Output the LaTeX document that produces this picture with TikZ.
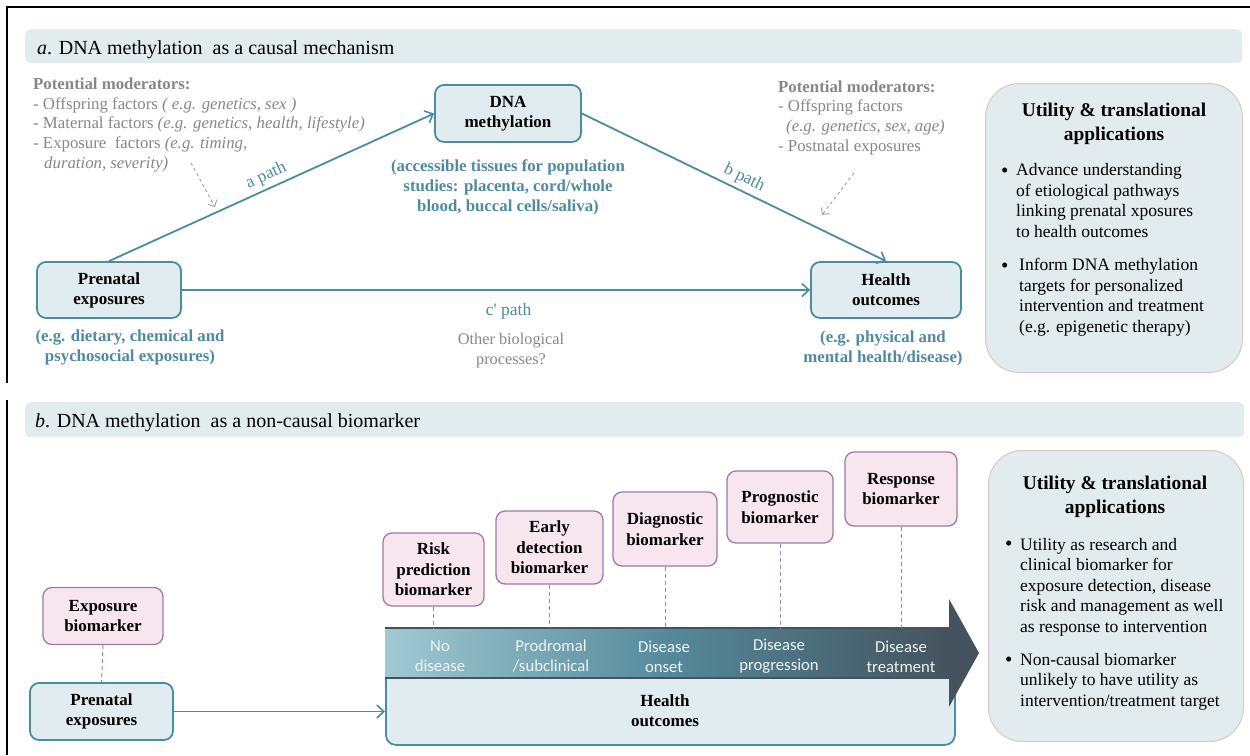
\documentclass[tikz,border=0pt]{standalone}
\usepackage{fontspec}
\setmainfont{Liberation Serif}
\newfontfamily\carlito{Carlito}
\usetikzlibrary{arrows.meta,calc}
\definecolor{teal}{HTML}{4A8CA1}
\definecolor{boxfill}{HTML}{E1ECF0}
\definecolor{bannerfill}{HTML}{E2ECEF}
\definecolor{tealtext}{HTML}{4E8AA0}
\definecolor{graytext}{HTML}{878787}
\definecolor{pinkfill}{HTML}{F7E6EE}
\definecolor{purpleb}{HTML}{9C7BA8}
\definecolor{dashpurple}{HTML}{A283B4}
\definecolor{utilborder}{HTML}{D6C8C8}
\definecolor{banddark}{HTML}{44535D}
\definecolor{bandmid}{HTML}{55899A}
\definecolor{bandlight}{HTML}{A0C9D3}
\definecolor{bandtext}{HTML}{EEF4F5}
\tikzset{
  banner/.style={fill=bannerfill, draw=none, rounded corners=6pt, anchor=north west, inner sep=0pt},
  tealbox/.style={draw=teal, line width=1.8pt, fill=boxfill, rounded corners=9pt, inner sep=0pt, align=center,
     font=\fontsize{17}{20}\selectfont\bfseries},
  pinkbox/.style={draw=purpleb, line width=1.3pt, fill=pinkfill, rounded corners=9pt, inner sep=0pt, align=center,
     font=\fontsize{17}{20.5}\selectfont\bfseries},
  utilbox/.style={draw=utilborder, line width=1pt, fill=bannerfill, rounded corners=34pt, inner sep=0pt, anchor=north west},
  arr/.style={draw=teal, line width=1.8pt, -{Straight Barb[length=7pt,width=13pt,line width=1.6pt]}},
  grayarr/.style={draw=graytext!80, line width=0.9pt, dash pattern=on 3pt off 3pt, -{Straight Barb[length=5pt,width=10pt,line width=0.9pt]}},
  pdash/.style={draw=dashpurple, line width=1pt, dash pattern=on 4pt off 3pt},
  tealnote/.style={text=tealtext, font=\fontsize{16.8}{20}\selectfont\bfseries, align=center, inner sep=0pt},
  graynote/.style={text=graytext, font=\fontsize{16.8}{19.6}\selectfont, align=left, inner sep=0pt, anchor=base west},
  pathlbl/.style={text=teal, font=\fontsize{17.5}{20}\selectfont, inner sep=0pt},
  bodytxt/.style={font=\fontsize{17.5}{20.5}\selectfont, align=left, inner sep=0pt, anchor=base west},
  bullet/.style={font=\fontsize{21}{20}\selectfont, inner sep=0pt, anchor=base west},
  utitle/.style={font=\fontsize{19.4}{24}\selectfont\bfseries, align=center, inner sep=0pt},
  stage/.style={text=bandtext, font=\carlito\fontsize{16.7}{20}\selectfont, align=center, inner sep=0pt},
  ttl/.style={font=\fontsize{20}{22}\selectfont, inner sep=0pt, anchor=base west},
}
\begin{document}
\begin{tikzpicture}[x=1pt,y=-1pt]
\useasboundingbox (0,0) rectangle (1250,755);
\fill[white] (0,0) rectangle (1250,755);
% frame
\draw[black, line width=1.3pt] (7,383) -- (7,7) -- (1250,7);
\draw[black, line width=1.3pt] (7,400) -- (7,755);

% ===== part a =====
\node[banner, minimum width=1217pt, minimum height=34pt] (bana) at (25,29) {};
\node[ttl] (tta) at (37,54) {\textit{a}. DNA methylation\ \ as a causal mechanism};

\node[tealbox, minimum width=146pt, minimum height=57pt] (dna) at (508,113.5) {DNA\\methylation};
\node[tealbox, minimum width=144pt, minimum height=56pt] (pe) at (109,290) {Prenatal\\exposures};
\node[tealbox, minimum width=150pt, minimum height=56pt] (ho) at (886,290) {Health\\outcomes};

\node[tealnote] (dnanote) at (508,187) {(accessible tissues for population\\studies: placenta, cord/whole\\blood, buccal cells/saliva)};
\node[tealnote] (penote) at (130,347) {(e.g. dietary, chemical and\\psychosocial exposures)};
\node[tealnote] (honote) at (883,348) {(e.g. physical and\\mental health/disease)};

\draw[arr] (pe.north) -- node[pathlbl, sloped, above=4pt, pos=0.5] {a path} (dna.west);
\draw[arr] (dna.east) -- node[pathlbl, sloped, above=4pt, pos=0.515] {b path} (ho.north);
\draw[arr] (pe.east) -- node[pathlbl, below=12pt, pos=0.52] {c\textquotesingle\ path} (ho.west);
\node[text=graytext, font=\fontsize{16.3}{20}\selectfont, align=center, inner sep=0pt] (obp) at (511,351) {Other biological\\processes?};

\node[graynote] (modl) at (33,168) {\textbf{Potential moderators:}\\
- Offspring factors \textit{( e.g. genetics, sex )}\\
- Maternal factors \textit{(e.g. genetics, health, lifestyle)}\\
- Exposure\ \ factors \textit{(e.g. timing,}\\
\hspace*{11pt}\textit{duration, severity)}};
\node[graynote] (modr) at (778,151) {\textbf{Potential moderators:}\\
- Offspring factors\\
\hspace*{8pt}\textit{(e.g. genetics, sex, age)}\\
- Postnatal exposures};
\coordinate (gl1) at (191,163);
\coordinate (gl2) at (215,207);
\draw[grayarr] (gl1) -- (gl2);
\coordinate (gr1) at (854,173);
\coordinate (gr2) at (822,215);
\draw[grayarr] (gr1) -- (gr2);

\node[utilbox, minimum width=257pt, minimum height=289pt] (ua) at (985,83) {};
\node[utitle] (uat) at (1114,124) {Utility \& translational\\applications};
\node[bullet] (ba1) at (1001,177) {\textbullet};
\node[bodytxt] (ta1) at (1016,237) {Advance understanding\\of etiological pathways\\linking prenatal xposures\\to health outcomes};
\node[bullet] (ba2) at (1001,272) {\textbullet};
\node[bodytxt] (ta2) at (1019,332) {Inform DNA methylation\\targets for personalized\\intervention and treatment\\(e.g. epigenetic therapy)};

% ===== part b =====
\node[banner, minimum width=1219pt, minimum height=35pt] (banb) at (25,402) {};
\node[ttl] (ttb) at (35,427) {\textit{b}. DNA methylation\ \ as a non-causal biomarker};

\node[draw=teal, line width=1.8pt, fill=boxfill, rounded corners=10pt, inner sep=0pt, anchor=north west,
      minimum width=569pt, minimum height=117pt] (hob) at (385,627) {};
\node[font=\fontsize{17}{20}\selectfont\bfseries, align=center, inner sep=0pt] (hobt) at (665,711) {Health\\outcomes};

% band arrow
\shade[left color=bandlight, right color=banddark, middle color=bandmid] (385,628) rectangle (951,678);
\draw[banddark, line width=2pt] (385,628) -- (951,628);
\draw[banddark, line width=1.5pt] (385,678) -- (951,678);
\fill[banddark] (949,599) -- (979,653) -- (949,707) -- cycle;
\coordinate (bandtop) at (400,628);

\node[stage] (s1) at (440,656.5) {No\\disease};
\node[stage] (s2) at (551,656.5) {Prodromal\\/subclinical};
\node[stage] (s3) at (664,656.5) {Disease\\onset};
\node[stage] (s4) at (779,656.5) {Disease\\progression};
\node[stage] (s5) at (901,656.5) {Disease\\treatment};

\node[pinkbox, minimum width=120pt, minimum height=57pt] (exb) at (103,616) {Exposure\\biomarker};
\node[tealbox, minimum width=143pt, minimum height=57pt] (pb) at (101.5,711.5) {Prenatal\\exposures};
\draw[pdash] (exb.south) -- (pb.north);
\draw[arr] (pb.east) -- (pb.east -| hob.west);

\node[pinkbox, minimum width=101pt, minimum height=73pt] (risk) at (433.5,569.5) {Risk\\prediction\\biomarker};
\node[pinkbox, minimum width=107pt, minimum height=73pt] (early) at (549.5,547.5) {Early\\detection\\biomarker};
\node[pinkbox, minimum width=104pt, minimum height=74pt] (diag) at (665,529) {Diagnostic\\biomarker};
\node[pinkbox, minimum width=106pt, minimum height=72pt] (prog) at (780,507) {Prognostic\\biomarker};
\node[pinkbox, minimum width=112pt, minimum height=74pt] (resp) at (901,489) {Response\\biomarker};
\foreach \b in {risk,early,diag,prog,resp}{
  \draw[pdash] (\b.south) -- (\b.south |- bandtop);
}

\node[utilbox, minimum width=255pt, minimum height=291pt] (ub) at (988,450) {};
\node[utitle] (ubt) at (1115,497) {Utility \& translational\\applications};
\node[bullet] (bb1) at (1005,550) {\textbullet};
\node[bodytxt] (tb1) at (1020,632) {Utility as research and\\clinical biomarker for\\exposure detection, disease\\risk and management as well\\as response to intervention};
\node[bullet] (bb2) at (1005,666) {\textbullet};
\node[bodytxt] (tb2) at (1020,706) {Non-causal biomarker\\unlikely to have utility as\\intervention/treatment target};
\end{tikzpicture}
\end{document}
